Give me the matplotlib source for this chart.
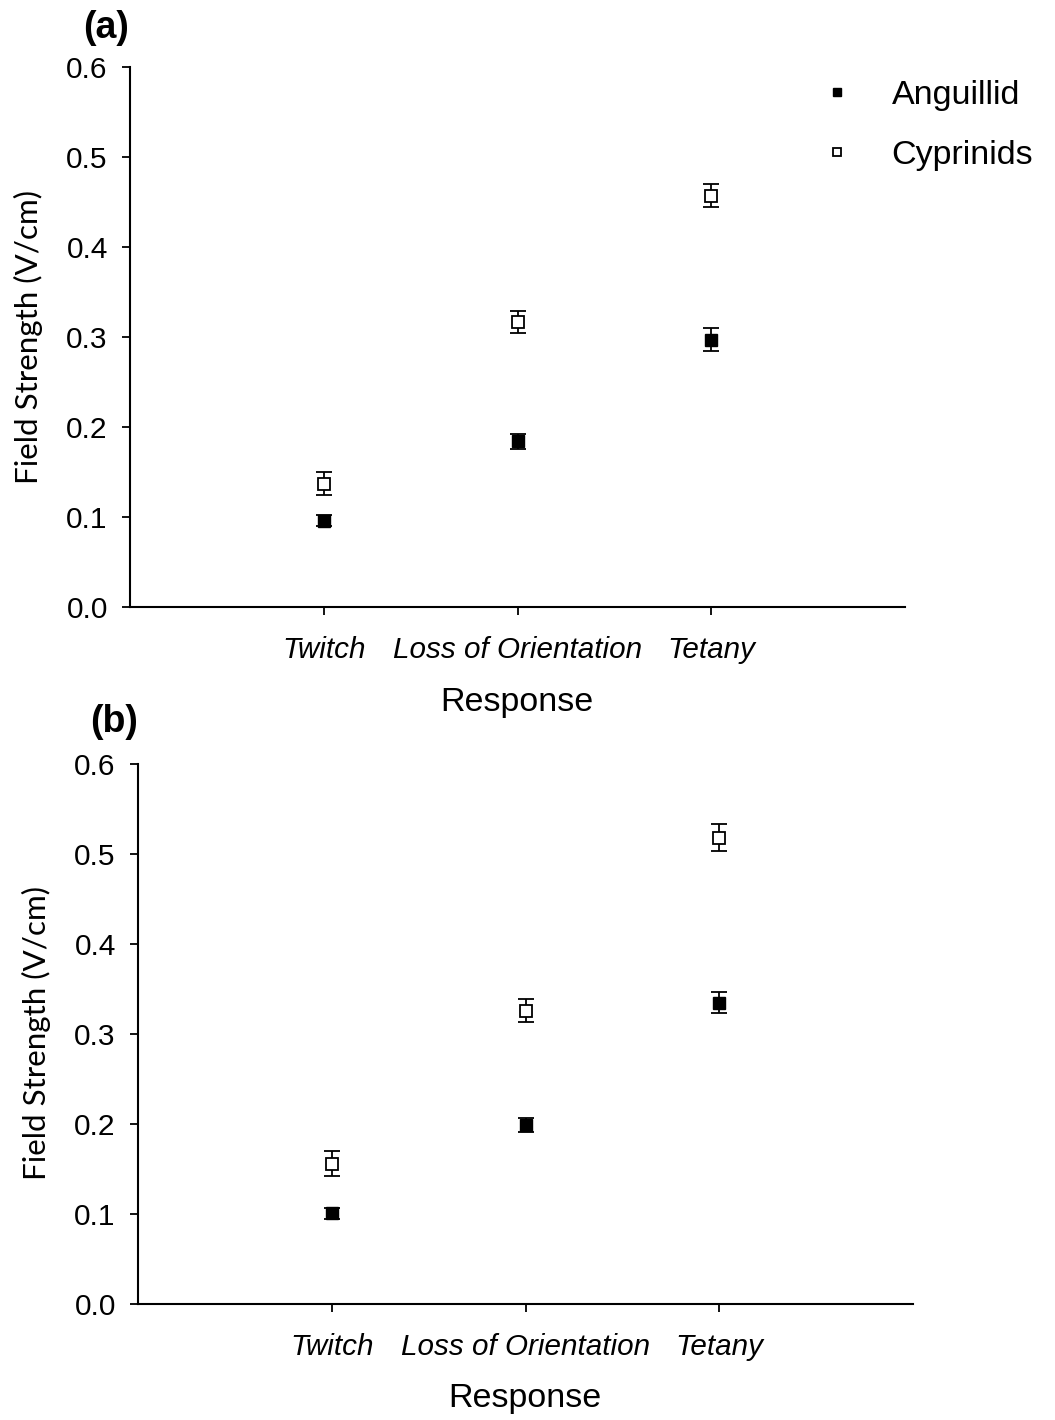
import matplotlib
matplotlib.use("Agg")
import matplotlib.pyplot as plt
from matplotlib.lines import Line2D

categories = ["Twitch", "Loss of Orientation", "Tetany"]
x_pos = [1, 2, 3]

# Panel (a)
a_anguillid = [0.096, 0.184, 0.297]
a_anguillid_err = [0.006, 0.008, 0.013]
a_cyprinids = [0.137, 0.317, 0.457]
a_cyprinids_err = [0.013, 0.012, 0.013]

# Panel (b)
b_anguillid = [0.101, 0.199, 0.335]
b_anguillid_err = [0.006, 0.008, 0.012]
b_cyprinids = [0.156, 0.326, 0.518]
b_cyprinids_err = [0.014, 0.013, 0.015]

yticks = [0.0, 0.1, 0.2, 0.3, 0.4, 0.5, 0.6]
ytick_labels = ["0.0", "0.1", "0.2", "0.3", "0.4", "0.5", "0.6"]

W, H = 1055, 1420
fig = plt.figure(figsize=(W / 100, H / 100), dpi=100)

TICKFONT = "Liberation Sans"
LABELFONT = "Lato"


def make_panel(rect, ang, ang_err, cyp, cyp_err):
    ax = fig.add_axes(rect)
    ax.errorbar(x_pos, ang, yerr=ang_err, fmt="s", color="black",
                markerfacecolor="black", markeredgecolor="black",
                markersize=8, ecolor="black", elinewidth=1.3,
                capsize=6, capthick=1.3, zorder=3)
    ax.errorbar(x_pos, cyp, yerr=cyp_err, fmt="s", color="black",
                markerfacecolor="white", markeredgecolor="black",
                markeredgewidth=1.3, markersize=8, ecolor="black",
                elinewidth=1.3, capsize=6, capthick=1.3, zorder=3)
    ax.set_xlim(0, 4)
    ax.set_ylim(0, 0.6)
    ax.set_yticks(yticks)
    ax.set_yticklabels(ytick_labels, fontfamily=TICKFONT, fontsize=21.5)
    ax.set_xticks(x_pos)
    ax.set_xticklabels(categories, fontfamily=TICKFONT, fontsize=21.3,
                       fontstyle="italic")
    for s in ["top", "right"]:
        ax.spines[s].set_visible(False)
    for s in ["left", "bottom"]:
        ax.spines[s].set_linewidth(1.5)
    ax.tick_params(axis="y", direction="out", length=6, width=1.3, pad=10)
    ax.tick_params(axis="x", direction="out", length=6, width=1.3, pad=14.8)
    return ax


ax_a = make_panel([130 / W, 1 - 607 / H, 775 / W, 540 / H],
                  a_anguillid, a_anguillid_err, a_cyprinids, a_cyprinids_err)
ax_b = make_panel([138 / W, 1 - 1304 / H, 775 / W, 540 / H],
                  b_anguillid, b_anguillid_err, b_cyprinids, b_cyprinids_err)

# Axis labels
fig.text(517 / W, 1 - 703 / H, "Response", ha="center", va="center",
         fontfamily=TICKFONT, fontsize=24.5)
fig.text(525 / W, 1 - 1399 / H, "Response", ha="center", va="center",
         fontfamily=TICKFONT, fontsize=24.5)
fig.text(28 / W, 1 - 337 / H, "Field Strength (V/cm)", ha="center",
         va="center", rotation=90, fontfamily=LABELFONT, fontsize=22.6)
fig.text(36 / W, 1 - 1033 / H, "Field Strength (V/cm)", ha="center",
         va="center", rotation=90, fontfamily=LABELFONT, fontsize=22.6)

# Panel letters
fig.text(106 / W, 1 - 28 / H, "(a)", ha="center", va="center",
         fontfamily=TICKFONT, fontweight="bold", fontsize=27)
fig.text(114 / W, 1 - 722 / H, "(b)", ha="center", va="center",
         fontfamily=TICKFONT, fontweight="bold", fontsize=27)

# Legend
handles = [
    Line2D([], [], linestyle="none", marker="s", markersize=6,
           markerfacecolor="black", markeredgecolor="black"),
    Line2D([], [], linestyle="none", marker="s", markersize=6,
           markerfacecolor="white", markeredgecolor="black",
           markeredgewidth=1.3),
]
fig.legend(handles, ["Anguillid", "Cyprinids"], loc="upper left",
           bbox_to_anchor=(820 / W, 1 - 80 / H), frameon=False,
           borderpad=0, borderaxespad=0, handlelength=1.0,
           handletextpad=1.1, labelspacing=0.85,
           prop={"family": TICKFONT, "size": 24.5})

fig.savefig("out.png", dpi=100)
